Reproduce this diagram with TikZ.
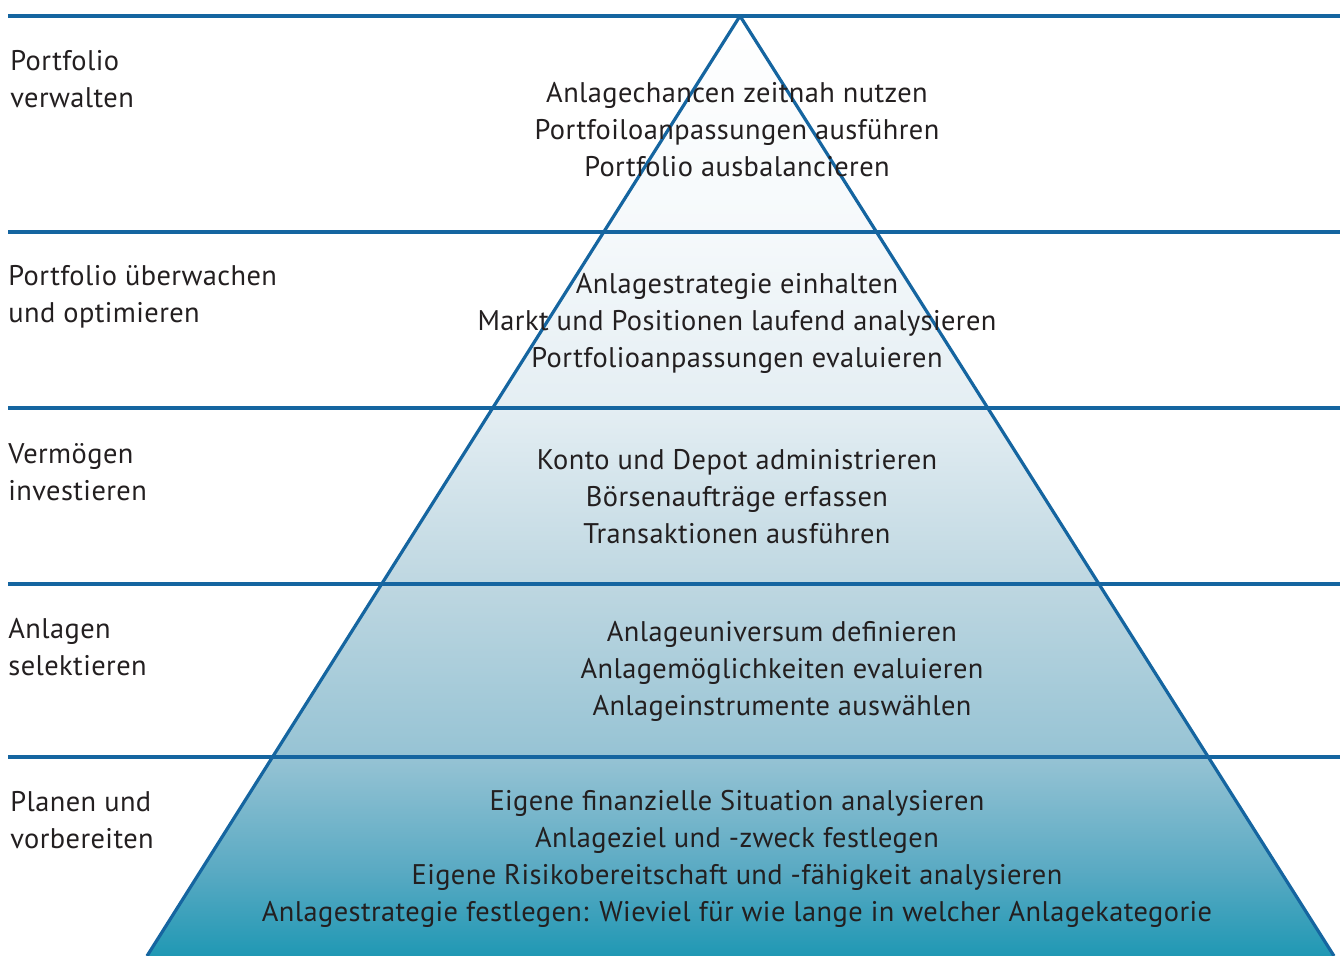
\documentclass[tikz,border=0pt]{standalone}
\usepackage{fontspec}
\setmainfont[LetterSpace=1.5]{PT Sans}
\definecolor{pyrline}{RGB}{21,101,160}
\definecolor{pyrtext}{RGB}{35,31,32}
\definecolor{pyrA}{RGB}{32,152,180}
\definecolor{pyrB}{RGB}{90,170,195}
\definecolor{pyrC}{RGB}{150,195,212}
\definecolor{pyrD}{RGB}{190,215,225}
\definecolor{pyrE}{RGB}{228,238,243}
\definecolor{pyrF}{RGB}{245,249,251}
\pgfdeclareverticalshading{pyramid}{100bp}{color(0bp)=(pyrA); color(25bp)=(pyrA);
  color(29.57bp)=(pyrB); color(35.59bp)=(pyrC); color(44.79bp)=(pyrD);
  color(54.15bp)=(pyrE); color(63.51bp)=(pyrF); color(75bp)=(white); color(100bp)=(white)}
\begin{document}
\begin{tikzpicture}[x=0.5pt, y=-0.5pt]
  \tikzstyle{stage}=[anchor=west, align=left, inner sep=0pt, text=pyrtext,
    font=\fontsize{14.2pt}{18.5pt}\selectfont]
  \tikzstyle{task}=[align=center, inner sep=0pt, text=pyrtext,
    font=\fontsize{14.2pt}{18.5pt}\selectfont]
  \tikzstyle{level}=[draw=pyrline, line width=1.6pt]
  \useasboundingbox (0, 0) rectangle (1344, 956);

  \coordinate (top)   at (740,  16);
  \coordinate (left)  at (147,  956);
  \coordinate (right) at (1334, 956);

  \shade[shading=pyramid] (top) -- (left) -- (right) -- cycle;

  \path[level] (8,  16) edge (1340,  16);
  \path[level] (8, 232) edge (1340, 232);
  \path[level] (8, 408) edge (1340, 408);
  \path[level] (8, 584) edge (1340, 584);
  \path[level] (8, 757) edge (1340, 757);

  \path[level] (top) edge (left);
  \path[level] (top) edge (right);

  \node[stage] (s1) at (10,  79.5) {Portfolio\\verwalten};
  \node[stage] (s2) at (8,  297) {Portfolio überwachen\\und optimieren};
  \node[stage] (s3) at (8,  472) {Vermögen\\investieren};
  \node[stage] (s4) at (8,  647.5) {Anlagen\\selektieren};
  \node[stage] (s5) at (10, 820) {Planen und\\vorbereiten};

  \node[task] (t1) at (737, 129.5) {Anlagechancen zeitnah nutzen\\
    Portfoiloanpassungen ausführen\\Portfolio ausbalancieren};
  \node[task] (t2) at (737, 323.5) {Anlagestrategie einhalten\\
    Markt und Positionen laufend analysieren\\Portfolioanpassungen evaluieren};
  \node[task] (t3) at (737, 496.5) {Konto und Depot administrieren\\
    Börsenaufträge erfassen\\Transaktionen ausführen};
  \node[task] (t4) at (782, 671) {Anlageuniversum definieren\\
    Anlagemöglichkeiten evaluieren\\Anlageinstrumente auswählen};
  \node[task] (t5) at (737, 859) {Eigene finanzielle Situation analysieren\\
    Anlageziel und -zweck festlegen\\
    Eigene Risikobereitschaft und -fähigkeit analysieren\\
    Anlagestrategie festlegen: Wieviel für wie lange in welcher Anlagekategorie};

\end{tikzpicture}
\end{document}
